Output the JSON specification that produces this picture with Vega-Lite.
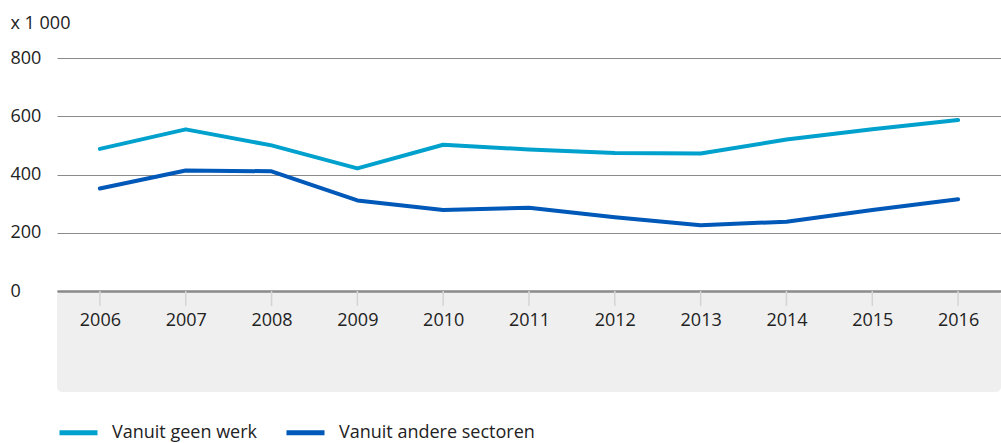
{
  "$schema": "https://vega.github.io/schema/vega-lite/v6.json",
  "padding": {"left": 10, "top": 14, "right": 0, "bottom": 0},
  "autosize": {"type": "pad"},
  "background": "white",
  "bounds": "flush",
  "spacing": 0,
  "config": {
    "font": "Open Sans",
    "view": {"stroke": null},
    "axis": {"labelFont": "Open Sans", "labelFontSize": 18, "labelColor": "#222222", "titleFont": "Open Sans", "titleFontWeight": "normal"},
    "legend": {"labelFont": "Open Sans", "labelFontSize": 18, "labelColor": "#222222"}
  },
  "datasets": {
    "series": [
      {"year": "2006", "series": "Vanuit geen werk", "value": 488},
      {"year": "2007", "series": "Vanuit geen werk", "value": 555},
      {"year": "2008", "series": "Vanuit geen werk", "value": 500},
      {"year": "2009", "series": "Vanuit geen werk", "value": 421},
      {"year": "2010", "series": "Vanuit geen werk", "value": 502},
      {"year": "2011", "series": "Vanuit geen werk", "value": 486},
      {"year": "2012", "series": "Vanuit geen werk", "value": 474},
      {"year": "2013", "series": "Vanuit geen werk", "value": 472},
      {"year": "2014", "series": "Vanuit geen werk", "value": 520},
      {"year": "2015", "series": "Vanuit geen werk", "value": 555},
      {"year": "2016", "series": "Vanuit geen werk", "value": 587},
      {"year": "2006", "series": "Vanuit andere sectoren", "value": 352},
      {"year": "2007", "series": "Vanuit andere sectoren", "value": 414},
      {"year": "2008", "series": "Vanuit andere sectoren", "value": 411},
      {"year": "2009", "series": "Vanuit andere sectoren", "value": 311},
      {"year": "2010", "series": "Vanuit andere sectoren", "value": 278},
      {"year": "2011", "series": "Vanuit andere sectoren", "value": 286},
      {"year": "2012", "series": "Vanuit andere sectoren", "value": 253},
      {"year": "2013", "series": "Vanuit andere sectoren", "value": 226},
      {"year": "2014", "series": "Vanuit andere sectoren", "value": 238},
      {"year": "2015", "series": "Vanuit andere sectoren", "value": 278},
      {"year": "2016", "series": "Vanuit andere sectoren", "value": 315}
    ],
    "years": [
      {"year": "2006"}, {"year": "2007"}, {"year": "2008"}, {"year": "2009"},
      {"year": "2010"}, {"year": "2011"}, {"year": "2012"}, {"year": "2013"},
      {"year": "2014"}, {"year": "2015"}, {"year": "2016"}
    ]
  },
  "vconcat": [
    {
      "width": 944,
      "height": 233,
      "data": {"name": "series"},
      "mark": {"type": "line", "strokeWidth": 4, "strokeCap": "round", "strokeJoin": "round"},
      "encoding": {
        "x": {
          "field": "year", "type": "ordinal",
          "scale": {"type": "point", "padding": 0.5},
          "axis": null
        },
        "y": {
          "field": "value", "type": "quantitative",
          "scale": {"domain": [0, 800], "nice": false},
          "axis": {
            "values": [0, 200, 400, 600, 800],
            "domain": false, "ticks": false, "grid": true,
            "gridColor": "#8a8a8a", "gridWidth": 1,
            "labelAlign": "left", "labelBaseline": "middle", "labelPadding": 47, "labelFlush": false,
            "title": "x 1 000", "titleAngle": 0, "titleAlign": "left", "titleBaseline": "alphabetic",
            "titleX": -47, "titleY": -30, "titleFontSize": 18, "titleColor": "#222222"
          }
        },
        "color": {
          "field": "series", "type": "nominal",
          "scale": {"domain": ["Vanuit geen werk", "Vanuit andere sectoren"], "range": ["#00a1cd", "#0058b8"]},
          "legend": {
            "orient": "bottom", "direction": "horizontal", "title": null,
            "symbolType": "stroke", "symbolSize": 1444, "symbolStrokeWidth": 5,
            "labelOffset": 12, "columnPadding": 18, "offset": 19, "labelLimit": 400
          }
        }
      }
    },
    {
      "width": 944,
      "height": 101,
      "data": {"name": "years"},
      "view": {"fill": "#efefef", "stroke": null, "cornerRadius": 5},
      "mark": {"type": "rule", "color": "#d4d4d4", "strokeWidth": 1.5},
      "encoding": {
        "x": {
          "field": "year", "type": "ordinal",
          "scale": {"type": "point", "padding": 0.5},
          "axis": {"orient": "top", "domain": true, "domainColor": "#8a8a8a", "domainWidth": 2.5, "ticks": false, "labelPadding": -38, "title": null, "labelAngle": 0}
        },
        "y": {"datum": 0, "type": "quantitative", "scale": {"domain": [0, 101], "reverse": true}, "axis": null},
        "y2": {"datum": 15}
      }
    }
  ]
}
